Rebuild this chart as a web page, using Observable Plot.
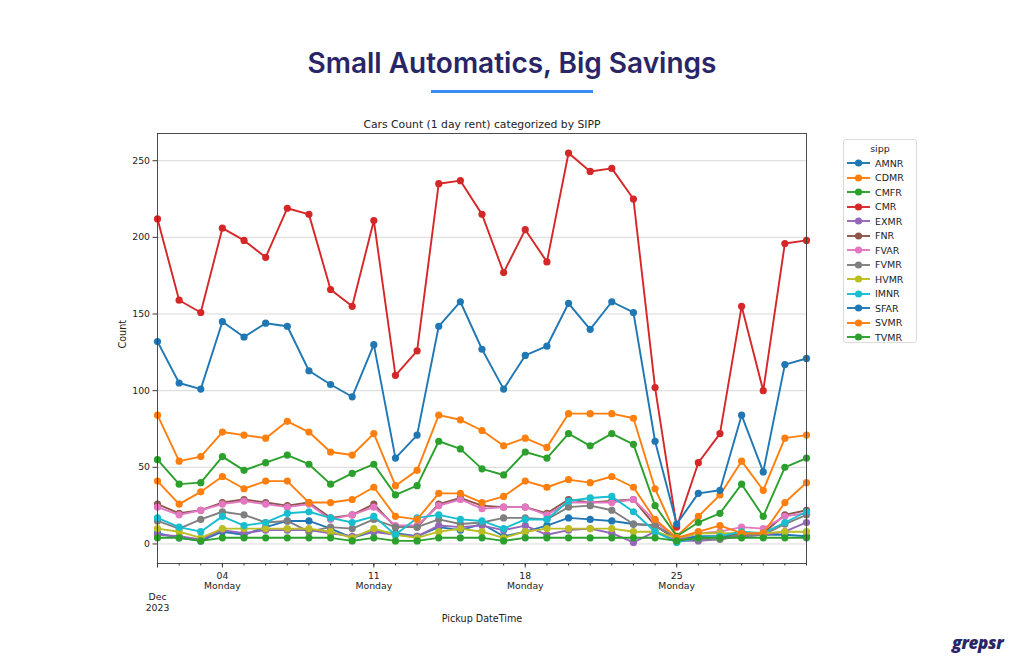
<!DOCTYPE html>
<html>
<head>
<meta charset="utf-8">
<script src="https://cdn.jsdelivr.net/npm/d3@7"></script>
<script src="https://cdn.jsdelivr.net/npm/@observablehq/plot@0.6"></script>
<style>
  html, body { margin: 0; padding: 0; background: #fff; }
  #wrap { position: relative; width: 1024px; height: 669px; overflow: hidden; background: #fff; }
  #title { position: absolute; left: 0; width: 1024px; top: 49px; text-align: center;
           font-family: Inter, "Noto Sans", sans-serif; font-weight: 600; font-size: 28px; line-height: 28px; color: #2a2566; }
  #rule { position: absolute; left: 431px; top: 90px; width: 162px; height: 3px; background: #3a8cf2; }
  #chart { position: absolute; left: 0; top: 100px; }
  #legend { position: absolute; left: 843px; top: 139px; width: 74px; height: 204px; box-sizing: border-box;
            border: 1px solid #dcdcdc; border-radius: 3px; font-family: "DejaVu Sans", sans-serif; font-size: 9.5px; color: #222; }
  #legend .ttl { position: absolute; left: 0; width: 100%; top: 3px; text-align: center; }
  #legend .row { position: absolute; left: 3px; height: 12px; display: flex; align-items: center; }
  #legend .row span { margin-left: 4px; }
  #logo { position: absolute; left: 952px; top: 631px; font-family: "Open Sans", "DejaVu Sans", sans-serif;
          font-weight: 800; font-style: italic; font-size: 17px; color: #2a2566; letter-spacing: -0.3px; }
</style>
</head>
<body>
<div id="wrap">
  <div id="title">Small Automatics, Big Savings</div>
  <div id="rule"></div>
  <div id="chart"></div>
  <div id="legend"></div>
  <div id="logo">grepsr</div>
</div>
<script>
// ---- data ----
const days = [1,2,3,4,5,6,7,8,9,10,11,12,13,14,15,16,17,18,19,20,21,22,23,24,25,26,27,28,29,30,31];
const sippNames = ["AMNR","CDMR","CMFR","CMR","EXMR","FNR","FVAR","FVMR","HVMR","IMNR","SFAR","SVMR","TVMR"];
const sippColors = ["#1f77b4","#ff7f0e","#2ca02c","#d62728","#9467bd","#8c564b","#e377c2","#7f7f7f","#bcbd22","#17becf","#1f77b4","#ff7f0e","#2ca02c"];

const AMNR = [7,4,2,8,6,11,15,15,10,4,8,7,5,11,9,13,5,8,12,17,16,15,13,12,3,5,5,5,6,6,5];
const CDMR = [84,54,57,73,71,69,80,73,60,58,72,38,48,84,81,74,64,69,63,85,85,85,82,36,5,18,32,54,35,69,71];
const CMFR = [55,39,40,57,48,53,58,52,39,46,52,32,38,67,62,49,45,60,56,72,64,72,65,25,5,14,20,39,18,50,56];
const CMR  = [212,159,151,206,198,187,219,215,166,155,211,110,126,235,237,215,177,205,184,255,243,245,225,102,11,53,72,155,100,196,198];
const EXMR = [6,5,3,9,7,9,9,9,7,5,8,6,5,12,11,12,9,12,6,9,10,7,1,8,2,2,3,5,6,8,14];
const FNR  = [26,20,22,27,29,27,25,27,17,19,26,11,11,26,30,25,24,24,20,29,27,28,29,12,3,3,5,7,7,19,22];
const FVAR = [24,19,22,26,28,26,24,26,16,19,24,12,12,25,29,23,24,24,19,27,27,27,29,15,3,7,8,11,10,18,20];
const FVMR = [15,10,16,21,19,14,15,8,11,10,16,11,11,16,13,14,17,17,16,24,25,22,13,12,4,3,3,6,6,13,19];
const HVMR = [10,8,4,10,10,10,10,10,8,4,10,6,4,8,10,8,4,8,10,10,10,10,8,8,4,7,7,7,7,8,8];
const IMNR = [17,11,8,18,12,14,20,21,17,14,18,6,17,19,16,15,10,16,16,28,30,31,21,8,1,4,5,8,7,14,21];
const SFAR = [132,105,101,145,135,144,142,113,104,96,130,56,71,142,158,127,101,123,129,157,140,158,151,67,13,33,35,84,47,117,121];
const SVMR = [41,26,34,44,36,41,41,27,27,29,37,18,16,33,33,27,31,41,37,42,40,44,37,16,4,8,12,7,7,27,40];
const TVMR = [4,4,2,4,4,4,4,4,4,2,4,2,2,4,4,4,2,4,4,4,4,4,4,4,2,4,4,4,4,4,4];

const seriesValues = [AMNR, CDMR, CMFR, CMR, EXMR, FNR, FVAR, FVMR, HVMR, IMNR, SFAR, SVMR, TVMR];

const yTicks = [0, 50, 100, 150, 200, 250];
const majorTickDays = [1, 4, 11, 18, 25];
const majorTickLabels = ["\n\nDec\n2023", "04\nMonday", "11\nMonday", "18\nMonday", "25\nMonday"];
const subtitle = "Cars Count (1 day rent) categorized by SIPP";
const xLabel = "Pickup DateTime";
const yLabel = "Count";
const legendTitle = "sipp";

// ---- build ----
const toDate = d => new Date(Date.UTC(2023, 11, d));
const rows = sippNames.flatMap((name, i) =>
  seriesValues[i].map((v, j) => ({sipp: name, date: toDate(days[j]), count: v})));

const majorDates = majorTickDays.map(toDate);
const labelOf = new Map(majorTickDays.map((d, i) => [toDate(d).getTime(), majorTickLabels[i]]));

const seriesMarks = sippNames.flatMap(name => [
  Plot.line(rows, {filter: d => d.sipp === name, x: "date", y: "count", stroke: "sipp", strokeWidth: 1.9}),
  Plot.dot(rows, {filter: d => d.sipp === name, x: "date", y: "count", fill: "sipp", r: 3.6})
]);

const chart = Plot.plot({
  width: 1024,
  height: 569,
  marginLeft: 157,
  marginRight: 218,
  marginTop: 33,
  marginBottom: 106,
  style: {fontFamily: "'DejaVu Sans', sans-serif", color: "#222", background: "transparent"},
  x: {type: "utc", domain: [toDate(days[0]), toDate(days[days.length - 1])]},
  y: {domain: [-12.75, 267.75]},
  color: {domain: sippNames, range: sippColors},
  marks: [
    Plot.gridY(yTicks, {stroke: "#b0b0b0", strokeOpacity: 0.55, strokeWidth: 0.9}),
    ...seriesMarks,
    Plot.frame({stroke: "#3a3a3a", strokeWidth: 0.9}),
    Plot.axisY({ticks: yTicks, tickSize: 4.5, tickPadding: 3, fontSize: 9.3, label: null, stroke: "#3a3a3a"}),
    Plot.axisX({ticks: days.map(toDate), tickSize: 2.5, tickFormat: () => "", label: null, stroke: "#3a3a3a"}),
    Plot.axisX({ticks: majorDates, tickSize: 4.5, tickPadding: 3, fontSize: 9.3, lineHeight: 1.15,
                tickFormat: d => labelOf.get(d.getTime()), label: null, stroke: "#3a3a3a"}),
    Plot.text([subtitle], {frameAnchor: "top", dy: -13, fontSize: 10.8, fill: "#222"}),
    Plot.text([xLabel], {frameAnchor: "bottom", dy: 58, fontSize: 9.6, fill: "#222"}),
    Plot.text([yLabel], {frameAnchor: "left", dx: -35, rotate: -90, fontSize: 9.6, fill: "#222"})
  ]
});
document.getElementById("chart").appendChild(chart);

// ---- legend ----
const legend = document.getElementById("legend");
const ttl = document.createElement("div");
ttl.className = "ttl";
ttl.textContent = legendTitle;
legend.appendChild(ttl);
sippNames.forEach((name, i) => {
  const row = document.createElement("div");
  row.className = "row";
  row.style.top = (17 + i * 14.5) + "px";
  const c = sippColors[i];
  row.innerHTML = `<svg width="24" height="10"><line x1="0" y1="5" x2="23" y2="5" stroke="${c}" stroke-width="1.9"/><circle cx="11.5" cy="5" r="3.6" fill="${c}"/></svg><span>${name}</span>`;
  legend.appendChild(row);
});
</script>
</body>
</html>
